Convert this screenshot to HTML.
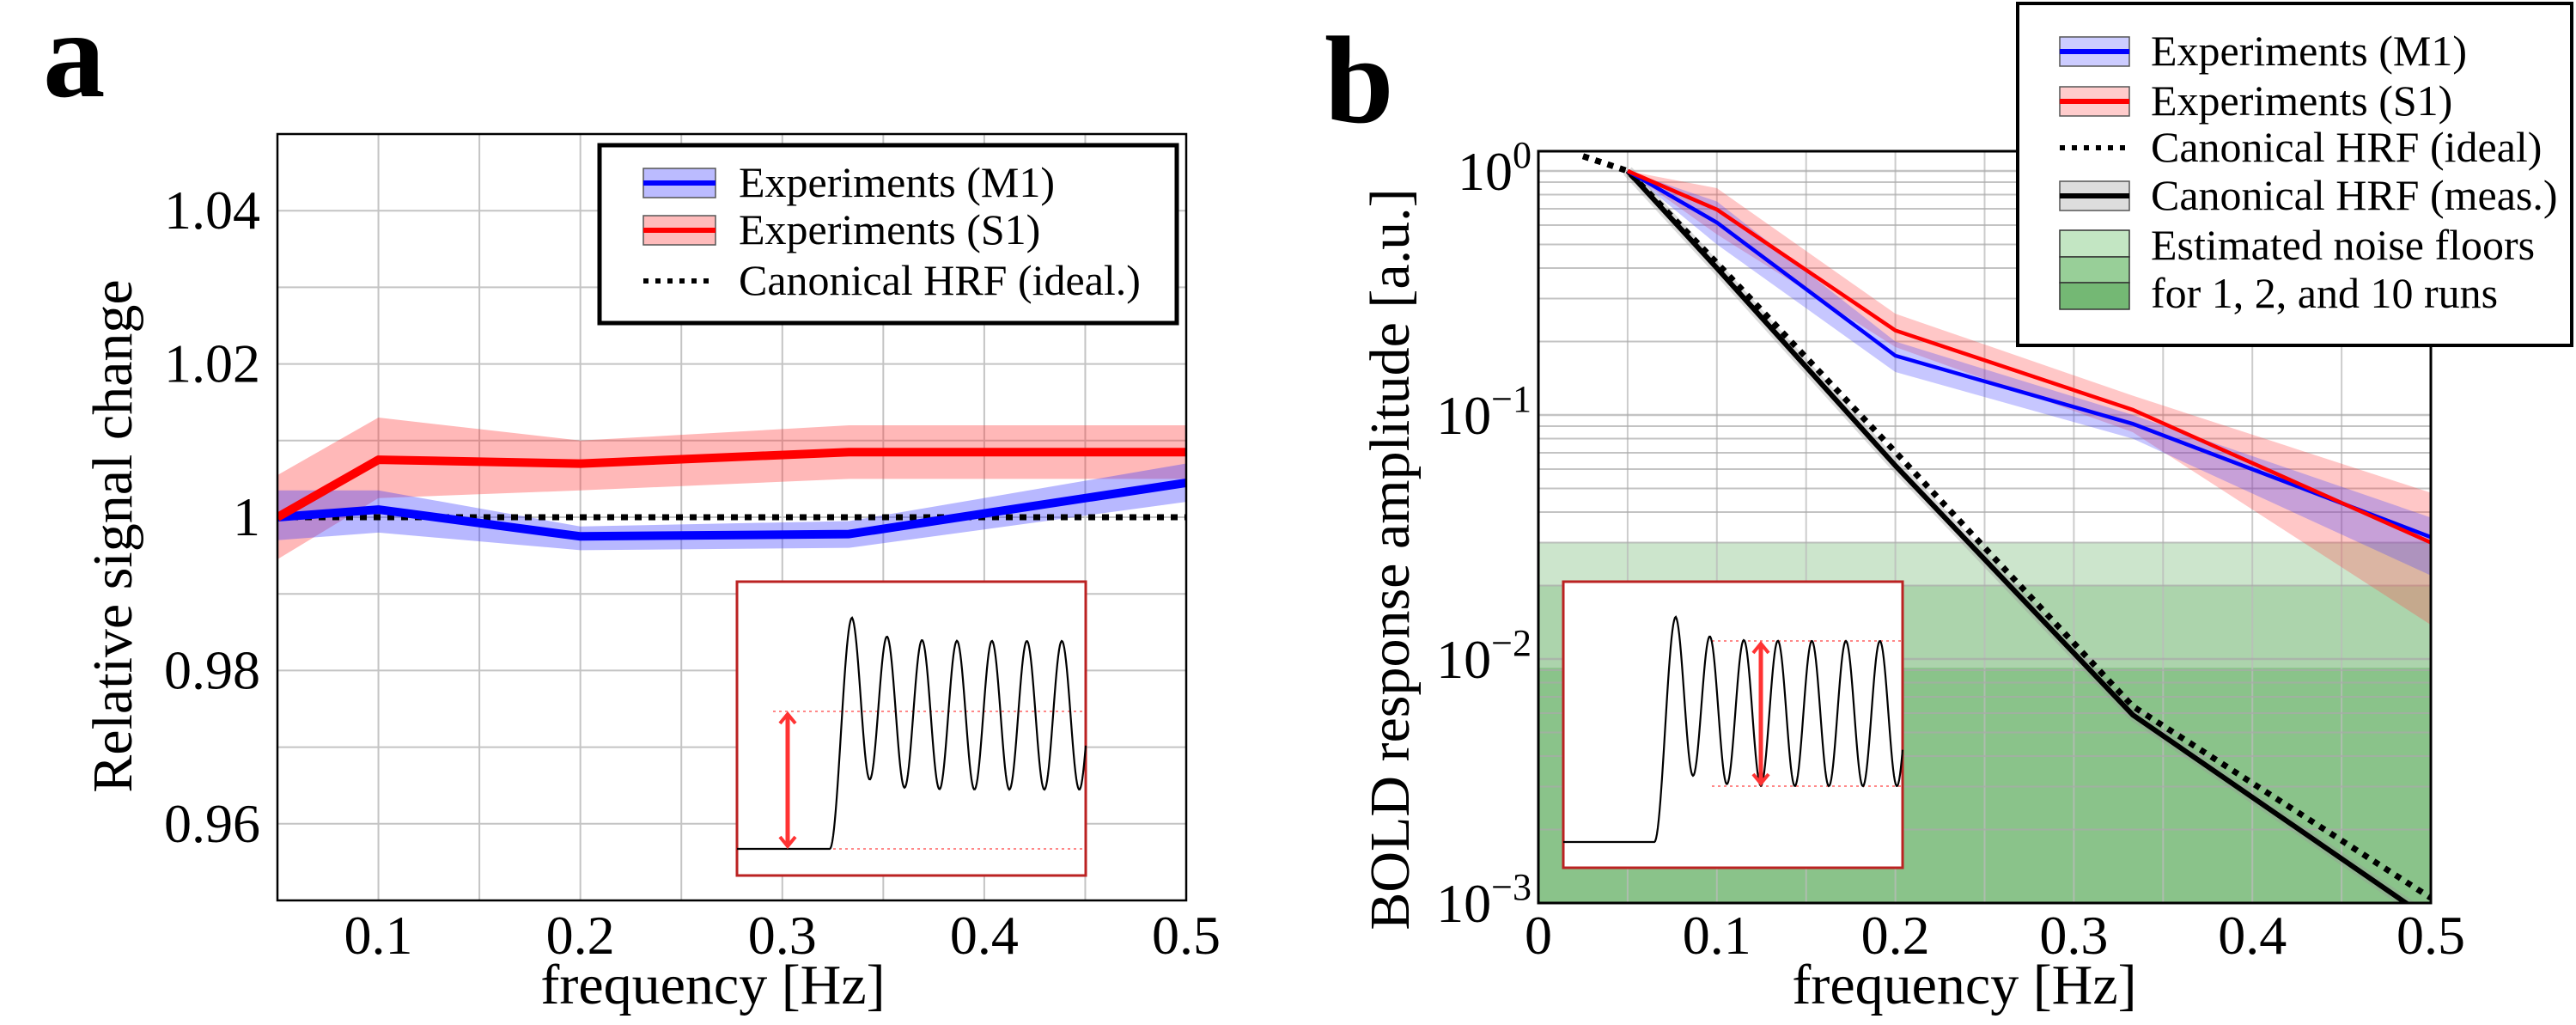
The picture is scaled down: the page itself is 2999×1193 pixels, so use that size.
<!DOCTYPE html>
<html><head><meta charset="utf-8"><style>
html,body{margin:0;padding:0;background:#fff;overflow:hidden}
svg{display:block}
text{font-family:"Liberation Serif",serif;fill:#000}
</style></head><body>
<svg id="fig" width="2999" height="1193" viewBox="0 0 2999 1193" xmlns="http://www.w3.org/2000/svg">
<text x="50" y="112" font-size="145" font-weight="bold">a</text>
<text x="1542" y="142" font-size="145" font-weight="bold">b</text>
<g id="ga"></g>
<g id="gb"></g>
</svg>
<script>
// ---------- Panel a data ----------
const aFreq = [0.05, 0.1, 0.2, 0.333, 0.5];
const aM1 = [1.0, 1.001, 0.9975, 0.9978, 1.0045];
const aM1Lo = [0.997, 0.998, 0.9957, 0.996, 1.002];
const aM1Hi = [1.0035, 1.0035, 0.9988, 0.9995, 1.007];
const aS1 = [1.0, 1.0075, 1.007, 1.0085, 1.0085];
const aS1Lo = [0.9945, 1.0025, 1.0035, 1.005, 1.005];
const aS1Hi = [1.0055, 1.013, 1.010, 1.012, 1.012];
const aIdeal = [1.0, 1.0, 1.0, 1.0, 1.0];
const aXTicks = [0.1, 0.2, 0.3, 0.4, 0.5];
const aXTickLabels = ["0.1", "0.2", "0.3", "0.4", "0.5"];
const aYTicks = [0.96, 0.98, 1.0, 1.02, 1.04];
const aYTickLabels = ["0.96", "0.98", "1", "1.02", "1.04"];
// ---------- Panel b data ----------
const bFreq = [0.05, 0.1, 0.2, 0.333, 0.5];
const bM1 = [1.0, 0.615, 0.175, 0.092, 0.0316];
const bM1Lo = [1.0, 0.5, 0.15, 0.08, 0.022];
const bM1Hi = [1.0, 0.75, 0.2, 0.1, 0.038];
const bS1 = [1.0, 0.695, 0.222, 0.105, 0.03];
const bS1Lo = [1.0, 0.55, 0.19, 0.085, 0.0138];
const bS1Hi = [1.0, 0.85, 0.26, 0.12, 0.048];
const bIdealFreq = [0.025, 0.05, 0.1, 0.2, 0.333, 0.5];
const bIdeal = [1.15, 1.0, 0.42, 0.0705, 0.0064, 0.00105];
const bMeas = [1.0, 0.40, 0.062, 0.0059, 0.00085];
const bNoise = [0.03, 0.02, 0.0092];
const bXTicks = [0, 0.1, 0.2, 0.3, 0.4, 0.5];
const bXTickLabels = ["0", "0.1", "0.2", "0.3", "0.4", "0.5"];
const bYTicks = [1e-3, 1e-2, 1e-1, 1];
const bYTickExp = ["−3", "−2", "−1", "0"];

const NS = "http://www.w3.org/2000/svg";
function mk(parent, tag, attrs, txt){
  const e = document.createElementNS(NS, tag);
  for (const k in attrs) e.setAttribute(k, attrs[k]);
  if (txt !== undefined) e.textContent = txt;
  parent.appendChild(e); return e;
}
function pts(xs, ys, X, Y){ return xs.map((x,i)=>X(x).toFixed(1)+","+Y(ys[i]).toFixed(1)).join(" "); }
function band(xs, lo, hi, X, Y){
  return xs.map((x,i)=>X(x)+","+Y(hi[i])).concat(xs.slice().reverse().map((x,j)=>{const i=xs.length-1-j;return X(x)+","+Y(lo[i]);})).join(" ");
}
const defs = mk(document.getElementById('fig'), 'defs', {});

// ================= Panel A =================
const ga = document.getElementById('ga');
const A = {l:323, r:1381, t:156, b:1048, x0:0.05, x1:0.5, y0:0.95, y1:1.05};
const AX = v => A.l + (v - A.x0)/(A.x1 - A.x0)*(A.r - A.l);
const AY = v => A.b - (v - A.y0)/(A.y1 - A.y0)*(A.b - A.t);
const cpA = mk(defs,'clipPath',{id:'cpa'}); mk(cpA,'rect',{x:A.l,y:A.t,width:A.r-A.l,height:A.b-A.t});
const gridA = mk(ga,'g',{});


for (let i=1;i<=9;i++){ const v=0.05+i*0.05; if(v>=0.5) break; mk(gridA,'line',{x1:AX(v),x2:AX(v),y1:A.t,y2:A.b,stroke:'#c4c4c4','stroke-width':2}); }
for (let i=1;i<10;i++){ const v=0.95+i*0.01; mk(gridA,'line',{x1:A.l,x2:A.r,y1:AY(v),y2:AY(v),stroke:'#c4c4c4','stroke-width':2}); }
const pa = mk(ga,'g',{'clip-path':'url(#cpa)'});
let e;
e = mk(pa,'polygon',{points:band(aFreq,aS1Lo,aS1Hi,AX,AY),fill:'#f33',opacity:0.35});
 
e = mk(pa,'polygon',{points:band(aFreq,aM1Lo,aM1Hi,AX,AY),fill:'#33f',opacity:0.35});
 
e = mk(pa,'polyline',{points:pts(aFreq,aIdeal,AX,AY),fill:'none',stroke:'#000','stroke-width':7,'stroke-dasharray':'8 8'});
 
e = mk(pa,'polyline',{points:pts(aFreq,aM1,AX,AY),fill:'none',stroke:'#00f','stroke-width':10,'stroke-linejoin':'round'});
 
e = mk(pa,'polyline',{points:pts(aFreq,aS1,AX,AY),fill:'none',stroke:'#f00','stroke-width':10,'stroke-linejoin':'round'});
 
e = mk(ga,'rect',{x:A.l,y:A.t,width:A.r-A.l,height:A.b-A.t,fill:'none',stroke:'#000','stroke-width':2.5});
 
aXTicks.forEach((v,i)=>{ const t=mk(ga,'text',{x:AX(v),y:1110,'font-size':64,'text-anchor':'middle'},aXTickLabels[i]);
    });
aYTicks.forEach((v,i)=>{ const t=mk(ga,'text',{x:A.l-20,y:AY(v)+21,'font-size':64,'text-anchor':'end'},aYTickLabels[i]);
    });
e = mk(ga,'text',{x:830,y:1168,'font-size':66,'text-anchor':'middle'},'frequency [Hz]');
 
e = mk(ga,'text',{x:0,y:0,'font-size':66,'text-anchor':'middle',transform:'translate(153,624) rotate(-90)'},'Relative signal change');
 
// legend a
const la = mk(ga,'g',{});
 
mk(la,'rect',{x:698,y:169,width:672,height:207,fill:'#fff',stroke:'#000','stroke-width':5});
[['#00f','#bbf','Experiments (M1)',213],['#f00','#fbb','Experiments (S1)',268]].forEach(([c,f,l,y])=>{
  const g=mk(la,'g',{});
   
  mk(g,'rect',{x:749,y:y-17,width:84,height:34,fill:f,stroke:'#555','stroke-width':1.5});
  mk(g,'line',{x1:749,x2:833,y1:y,y2:y,stroke:c,'stroke-width':6});
  mk(g,'text',{x:860,y:y+16,'font-size':50},l);
});
{ const g=mk(la,'g',{});
   
  mk(g,'line',{x1:749,x2:833,y1:327,y2:327,stroke:'#000','stroke-width':6,'stroke-dasharray':'6 8'});
  mk(g,'text',{x:860,y:343,'font-size':50},'Canonical HRF (ideal.)'); }

// inset drawing helper (illustrative waveform)
function inset(parent, bx, by, bw, bh, baseY, riseX, tp, peakY, topY, botY, period, dotX, arrowX, arrowTop, arrowBot, name){
  const g = mk(parent,'g',{});
   
  mk(g,'rect',{x:bx,y:by,width:bw,height:bh,fill:'#fff',stroke:'#b22','stroke-width':3});
  mk(g,'line',{x1:dotX,x2:bx+bw,y1:arrowTop,y2:arrowTop,stroke:'#f88','stroke-width':2,'stroke-dasharray':'3 4'});
  mk(g,'line',{x1:dotX,x2:bx+bw,y1:arrowBot,y2:arrowBot,stroke:'#f88','stroke-width':2,'stroke-dasharray':'3 4'});
  let d = 'M'+bx+','+baseY+' L'+riseX+','+baseY;
  const mid=(topY+botY)/2, amp=(botY-topY)/2, k=topY-peakY;
  for (let x=riseX; x<=bx+bw; x+=1){
    const t=x-riseX; let y;
    if (t<tp) y = baseY + (peakY-baseY)*(1-Math.cos(Math.PI*t/tp))/2;
    else { const s=t-tp; const c = mid - k*Math.exp(-s/(period*0.6)); y = c - amp*Math.cos(2*Math.PI*s/period); }
    d += ' L'+x+','+y.toFixed(1);
  }
  mk(g,'path',{d:d,fill:'none',stroke:'#000','stroke-width':2.2});
  mk(g,'line',{x1:arrowX,x2:arrowX,y1:arrowTop+6,y2:arrowBot-6,stroke:'#f33','stroke-width':5});
  mk(g,'path',{d:`M${arrowX-9},${arrowTop+14} L${arrowX},${arrowTop+3} L${arrowX+9},${arrowTop+14}`,fill:'none',stroke:'#f33','stroke-width':4});
  mk(g,'path',{d:`M${arrowX-9},${arrowBot-14} L${arrowX},${arrowBot-3} L${arrowX+9},${arrowBot-14}`,fill:'none',stroke:'#f33','stroke-width':4});
}
inset(ga, 858, 677, 406, 342, 988, 966, 26, 719, 746, 919, 40.7, 900, 917, 828, 988, 'panel-a-inset');

// ================= Panel B =================
const gb = document.getElementById('gb');
const B = {l:1791, r:2830, t:176, b:1051, x0:0, x1:0.5, ly0:-3, ly1:0.081};
const BX = v => B.l + (v - B.x0)/(B.x1 - B.x0)*(B.r - B.l);
const BY = v => B.b - (Math.log10(v) - B.ly0)/(B.ly1 - B.ly0)*(B.b - B.t);
const cpB = mk(defs,'clipPath',{id:'cpb'}); mk(cpB,'rect',{x:B.l,y:B.t,width:B.r-B.l,height:B.b-B.t});
const pb = mk(gb,'g',{'clip-path':'url(#cpb)'});
bNoise.forEach((v,i)=>{ const r=mk(pb,'rect',{x:B.l,y:BY(v),width:B.r-B.l,height:B.b-BY(v),fill:'#3a9a3a',opacity:i==0?0.26:(i==1?0.22:0.3)});
    });
const gridB = mk(pb,'g',{});
 
for (let i=1;i<10;i++){ const v=i*0.05; mk(gridB,'line',{x1:BX(v),x2:BX(v),y1:B.t,y2:B.b,stroke:'#bbb','stroke-width':2,opacity:0.75}); }
for (let d=-3; d<=0; d++) for (let m=1;m<10;m++){ const v=m*Math.pow(10,d); if(Math.log10(v)>B.ly1) break;
  mk(gridB,'line',{x1:B.l,x2:B.r,y1:BY(v),y2:BY(v),stroke:'#aaa','stroke-width':m==1?2.5:2,opacity:0.7}); }
e = mk(pb,'polygon',{points:band(bFreq,bS1Lo,bS1Hi,BX,BY),fill:'#f44',opacity:0.3});
 
e = mk(pb,'polygon',{points:band(bFreq,bM1Lo,bM1Hi,BX,BY),fill:'#44f',opacity:0.3});
 
mk(pb,'polyline',{points:pts(bFreq,bMeas,BX,BY),fill:'none',stroke:'#999','stroke-width':13,opacity:0.35});
e = mk(pb,'polyline',{points:pts(bFreq,bMeas,BX,BY),fill:'none',stroke:'#000','stroke-width':6});
 
e = mk(pb,'polyline',{points:pts(bIdealFreq,bIdeal,BX,BY),fill:'none',stroke:'#000','stroke-width':7,'stroke-dasharray':'7 8'});
 
e = mk(pb,'polyline',{points:pts(bFreq,bM1,BX,BY),fill:'none',stroke:'#00f','stroke-width':4.5});
 
e = mk(pb,'polyline',{points:pts(bFreq,bS1,BX,BY),fill:'none',stroke:'#f00','stroke-width':4.5});
 
mk(gb,'polyline',{points:pts(bIdealFreq.slice(0,2),bIdeal.slice(0,2),BX,BY),fill:'none',stroke:'#000','stroke-width':7,'stroke-dasharray':'7 8'});
e = mk(gb,'rect',{x:B.l,y:B.t,width:B.r-B.l,height:B.b-B.t,fill:'none',stroke:'#000','stroke-width':3});
 
bXTicks.forEach((v,i)=>{ const t=mk(gb,'text',{x:BX(v),y:1110,'font-size':64,'text-anchor':'middle'},bXTickLabels[i]);
    });
bYTicks.forEach((v,i)=>{ const t=mk(gb,'text',{x:B.l-8,y:BY(v)+22,'font-size':64,'text-anchor':'end'});
   
  mk(t,'tspan',{},'10'); mk(t,'tspan',{dy:-26,'font-size':44},bYTickExp[i]); });
e = mk(gb,'text',{x:2287,y:1168,'font-size':66,'text-anchor':'middle'},'frequency [Hz]');
 
e = mk(gb,'text',{x:0,y:0,'font-size':66,'text-anchor':'middle',transform:'translate(1640,651) rotate(-90)'},'BOLD response amplitude [a.u.]');
 
inset(gb, 1820, 677, 395, 333, 980, 1926, 25, 718, 746, 915, 39.6, 1993, 2050, 746, 915, 'panel-b-inset');
// legend b
const lb = mk(gb,'g',{});
 
mk(lb,'rect',{x:2349,y:4,width:645,height:398,fill:'#fff',stroke:'#000','stroke-width':4});
[['#00f','#ccf','Experiments (M1)',60],['#f00','#fcc','Experiments (S1)',118],['#000','#ddd','Canonical HRF (meas.)',228]].forEach(([c,f,l,y])=>{
  const g=mk(lb,'g',{});
   
  mk(g,'rect',{x:2398,y:y-17,width:81,height:34,fill:f,stroke:'#555','stroke-width':1.5});
  mk(g,'line',{x1:2398,x2:2479,y1:y,y2:y,stroke:c,'stroke-width':6});
  mk(g,'text',{x:2504,y:y+16,'font-size':50},l);
});
{ const g=mk(lb,'g',{});
   
  mk(g,'line',{x1:2398,x2:2479,y1:172,y2:172,stroke:'#000','stroke-width':6,'stroke-dasharray':'6 8'});
  mk(g,'text',{x:2504,y:188,'font-size':50},'Canonical HRF (ideal)'); }
{ const g=mk(lb,'g',{});
   
  mk(g,'rect',{x:2398,y:268,width:81,height:31,fill:'#c3e6c3',stroke:'#333','stroke-width':1.5});
  mk(g,'rect',{x:2398,y:299,width:81,height:30,fill:'#98cf98',stroke:'#333','stroke-width':1.5});
  mk(g,'rect',{x:2398,y:329,width:81,height:31,fill:'#74b874',stroke:'#333','stroke-width':1.5});
  mk(g,'text',{x:2504,y:302,'font-size':50},'Estimated noise floors');
  mk(g,'text',{x:2504,y:358,'font-size':50},'for 1, 2, and 10 runs'); }
</script>
</body></html>
